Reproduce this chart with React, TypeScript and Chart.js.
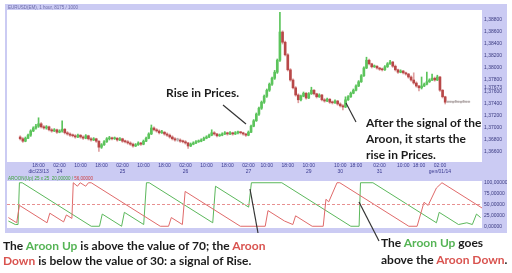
import React, { useEffect, useRef } from 'react';
import { Chart, registerables } from 'chart.js';
Chart.register(...registerables);

// ---------- DATA ----------
const opens = [
  1.3685,1.3682,1.3678,1.3683,1.3688,1.3695,1.3700,1.3703,1.3707,1.3702,
  1.3700,1.3702,1.3697,1.3695,1.3697,1.3693,1.3695,1.3698,1.3692,1.3690,
  1.3688,1.3687,1.3685,1.3688,1.3685,1.3683,1.3687,1.3682,1.3680,1.3682,
  1.3678,1.3668,1.3672,1.3677,1.3682,1.3683,1.3682,1.3683,1.3680,1.3682,
  1.3678,1.3677,1.3675,1.3673,1.3670,1.3672,1.3675,1.3673,1.3678,1.3683,
  1.3690,1.3700,1.3697,1.3695,1.3692,1.3693,1.3690,1.3688,1.3685,1.3682,
  1.3680,1.3680,1.3678,1.3677,1.3675,1.3670,1.3673,1.3675,1.3677,1.3678,
  1.3680,1.3683,1.3685,1.3688,1.3692,1.3690,1.3687,1.3688,1.3690,1.3692,
  1.3690,1.3692,1.3690,1.3692,1.3693,1.3692,1.3690,1.3688,1.3693,1.3703,
  1.3712,1.3723,1.3733,1.3743,1.3753,1.3763,1.3773,1.3783,1.3793,1.3813,
  1.3860,1.3843,1.3822,1.3797,1.3780,1.3767,1.3755,1.3747,1.3753,1.3758,
  1.3750,1.3757,1.3763,1.3757,1.3752,1.3755,1.3747,1.3745,1.3748,1.3743,
  1.3742,1.3745,1.3740,1.3737,1.3735,1.3747,1.3752,1.3758,1.3763,1.3770,
  1.3777,1.3787,1.3800,1.3813,1.3807,1.3802,1.3803,1.3800,1.3798,1.3797,
  1.3802,1.3807,1.3810,1.3803,1.3797,1.3793,1.3795,1.3792,1.3790,1.3785,
  1.3780,1.3775,1.3770,1.3767,1.3770,1.3773,1.3777,1.3780,1.3783,1.3780,
  1.3785,1.3763,1.3752,1.3743,1.3743,1.3743,1.3743,1.3743,1.3743,1.3743,
  1.3743,1.3743,
];
const closes = [
  1.3682,1.3678,1.3683,1.3688,1.3695,1.3700,1.3703,1.3707,1.3702,1.3700,
  1.3702,1.3697,1.3695,1.3697,1.3693,1.3695,1.3698,1.3692,1.3690,1.3688,
  1.3687,1.3685,1.3688,1.3685,1.3683,1.3687,1.3682,1.3680,1.3682,1.3678,
  1.3668,1.3672,1.3677,1.3682,1.3683,1.3682,1.3683,1.3680,1.3682,1.3678,
  1.3677,1.3675,1.3673,1.3670,1.3672,1.3675,1.3673,1.3678,1.3683,1.3690,
  1.3700,1.3697,1.3695,1.3692,1.3693,1.3690,1.3688,1.3685,1.3682,1.3680,
  1.3680,1.3678,1.3677,1.3675,1.3670,1.3673,1.3675,1.3677,1.3678,1.3680,
  1.3683,1.3685,1.3688,1.3692,1.3690,1.3687,1.3688,1.3690,1.3692,1.3690,
  1.3692,1.3690,1.3692,1.3693,1.3692,1.3690,1.3688,1.3693,1.3703,1.3712,
  1.3723,1.3733,1.3743,1.3753,1.3763,1.3773,1.3783,1.3793,1.3813,1.3860,
  1.3843,1.3822,1.3797,1.3780,1.3767,1.3755,1.3747,1.3753,1.3758,1.3750,
  1.3757,1.3763,1.3757,1.3752,1.3755,1.3747,1.3745,1.3748,1.3743,1.3742,
  1.3745,1.3740,1.3737,1.3735,1.3747,1.3752,1.3758,1.3763,1.3770,1.3777,
  1.3787,1.3800,1.3813,1.3807,1.3802,1.3803,1.3800,1.3798,1.3797,1.3802,
  1.3807,1.3810,1.3803,1.3797,1.3793,1.3795,1.3792,1.3790,1.3785,1.3780,
  1.3775,1.3770,1.3767,1.3770,1.3773,1.3777,1.3780,1.3783,1.3780,1.3785,
  1.3763,1.3752,1.3743,1.3743,1.3743,1.3743,1.3743,1.3743,1.3743,1.3743,
  1.3743,1.3743,
];
const highs = [
  1.3687,1.3684,1.3685,1.3690,1.3697,1.3702,1.3706,1.3717,1.3709,1.3704,
  1.3704,1.3703,1.3699,1.3699,1.3698,1.3697,1.3712,1.3699,1.3694,1.3692,
  1.3690,1.3689,1.3690,1.3689,1.3687,1.3689,1.3688,1.3684,1.3684,1.3683,
  1.3679,1.3674,1.3679,1.3684,1.3686,1.3685,1.3685,1.3684,1.3684,1.3683,
  1.3680,1.3679,1.3677,1.3675,1.3674,1.3677,1.3676,1.3680,1.3685,1.3692,
  1.3705,1.3702,1.3699,1.3697,1.3696,1.3694,1.3692,1.3690,1.3687,1.3684,
  1.3683,1.3682,1.3680,1.3679,1.3676,1.3675,1.3677,1.3679,1.3680,1.3682,
  1.3685,1.3687,1.3690,1.3697,1.3694,1.3691,1.3690,1.3692,1.3694,1.3693,
  1.3694,1.3693,1.3694,1.3695,1.3694,1.3693,1.3691,1.3695,1.3705,1.3714,
  1.3725,1.3735,1.3745,1.3755,1.3765,1.3775,1.3785,1.3796,1.3815,1.3893,
  1.3862,1.3845,1.3824,1.3799,1.3782,1.3769,1.3757,1.3755,1.3760,1.3759,
  1.3759,1.3768,1.3764,1.3758,1.3757,1.3756,1.3749,1.3750,1.3749,1.3745,
  1.3747,1.3746,1.3742,1.3739,1.3752,1.3754,1.3760,1.3765,1.3772,1.3779,
  1.3789,1.3802,1.3818,1.3815,1.3808,1.3805,1.3804,1.3801,1.3800,1.3804,
  1.3809,1.3813,1.3811,1.3805,1.3798,1.3797,1.3796,1.3793,1.3791,1.3787,
  1.3792,1.3777,1.3771,1.3785,1.3775,1.3793,1.3782,1.3790,1.3785,1.3788,
  1.3786,1.3764,1.3753,1.3743,1.3743,1.3744,1.3746,1.3743,1.3744,1.3746,
  1.3744,1.3743,
];
const lows = [
  1.3680,1.3676,1.3677,1.3682,1.3686,1.3694,1.3698,1.3701,1.3700,1.3698,
  1.3698,1.3695,1.3693,1.3694,1.3691,1.3692,1.3693,1.3690,1.3688,1.3686,
  1.3685,1.3683,1.3684,1.3683,1.3681,1.3682,1.3680,1.3678,1.3679,1.3676,
  1.3661,1.3666,1.3671,1.3676,1.3680,1.3680,1.3681,1.3678,1.3679,1.3676,
  1.3675,1.3673,1.3671,1.3668,1.3669,1.3671,1.3671,1.3672,1.3677,1.3682,
  1.3689,1.3695,1.3693,1.3690,1.3691,1.3688,1.3686,1.3683,1.3680,1.3678,
  1.3678,1.3676,1.3675,1.3673,1.3666,1.3669,1.3672,1.3674,1.3676,1.3677,
  1.3679,1.3682,1.3684,1.3687,1.3688,1.3685,1.3686,1.3687,1.3689,1.3688,
  1.3689,1.3688,1.3689,1.3690,1.3690,1.3688,1.3686,1.3687,1.3692,1.3702,
  1.3711,1.3721,1.3731,1.3741,1.3751,1.3761,1.3771,1.3781,1.3791,1.3811,
  1.3840,1.3820,1.3795,1.3778,1.3765,1.3753,1.3742,1.3745,1.3752,1.3748,
  1.3749,1.3756,1.3755,1.3750,1.3751,1.3745,1.3743,1.3744,1.3741,1.3740,
  1.3741,1.3738,1.3735,1.3730,1.3734,1.3746,1.3751,1.3757,1.3762,1.3769,
  1.3776,1.3786,1.3799,1.3805,1.3800,1.3801,1.3798,1.3796,1.3795,1.3796,
  1.3801,1.3806,1.3801,1.3795,1.3791,1.3792,1.3790,1.3788,1.3783,1.3778,
  1.3773,1.3768,1.3762,1.3765,1.3769,1.3772,1.3776,1.3779,1.3778,1.3779,
  1.3761,1.3750,1.3740,1.3743,1.3743,1.3742,1.3743,1.3743,1.3742,1.3743,
  1.3743,1.3743,
];

const priceTicks = [1.366, 1.368, 1.37, 1.372, 1.374, 1.376, 1.378, 1.38, 1.382, 1.384, 1.386, 1.388];
const lastPrice = 1.37673;
const priceMin = 1.36433;
const priceMax = 1.38967;

const timeTickIdx = [7, 15, 23, 31, 39, 47, 55, 63, 71, 79, 87, 94, 102, 110, 122, 128, 137, 146, 152, 160];
const timeTickTime = ['18:00','02:00','10:00','18:00','02:00','10:00','18:00','02:00','10:00','18:00','02:00','10:00','18:00','10:00','10:00','18:00','02:00','10:00','18:00','02:00'];
const timeTickDate = ['dic/23/13','24','','','25','','','26','','','27','','','29','30','','31','','','gen/01/14'];

// Aroon vertices: [bar index, value]
const aroonUp: number[][] = [
  [0,12],[2.5,4],[3.5,4],[4,100],[5,100],[30,0],[33,0],[34,28],[41,0],[42,32],[49,4],[50,100],[51,100],
  [74,8],[75,92],[87,44],[88,100],[99,100],[124,0],[127,0],[127.5,100],[132,100],[155,8],[156,32],
  [163,4],[166,8],[168,4],[169.5,28],[171,20],
];
const aroonDown: number[][] = [
  [0,20],[3,8],[4,48],[14,8],[15,30],[20,10],[21,26],[23,18],[23.5,100],[25,92],[26,100],[28,92],[29,100],
  [30,100],[55,0],[58,0],[59,20],[63,4],[64,80],[84,0],[93,0],[94,36],[100,12],[103,4],[104,24],[110,0],
  [114,0],[115,62],[116,56],[119,100],[120,100],[145,0],[148,0],[150.5,55],[152,48],[155,88],[157,100],[171.5,42],
];
const aroonTicks = [0, 25, 50, 75, 100];
const aroonSignal = 50;

const N = closes.length;
const fmt = (v: number) => v.toFixed(5).replace('.', ',');

const GREEN = '#5cc45c';
const RED = '#b84848';
const WICK_RED = '#dfa0a0';
const FLAT = '#b8b0b0';
const LAV = '#cbcbf3';

const whitePlot = {
  id: 'whitePlot',
  beforeDraw(chart: any) {
    const { ctx, chartArea } = chart;
    ctx.save();
    ctx.fillStyle = '#ffffff';
    ctx.fillRect(chartArea.left, chartArea.top, chartArea.right - chartArea.left, chartArea.bottom - chartArea.top);
    ctx.restore();
  },
};

const titlePlugin = {
  id: 'titleText',
  afterDraw(chart: any) {
    const { ctx } = chart;
    ctx.save();
    ctx.font = '4.5px Arial, "Liberation Sans", sans-serif';
    ctx.fillStyle = '#6a6aa8';
    ctx.textBaseline = 'middle';
    ctx.fillText('EURUSD(EM), 1 hour, 8175 / 1000', 3, 3.5);
    ctx.restore();
  },
};

const aroonLegend = {
  id: 'aroonLegend',
  afterDraw(chart: any) {
    const { ctx, chartArea } = chart;
    ctx.save();
    ctx.font = '4.5px Arial, "Liberation Sans", sans-serif';
    ctx.textBaseline = 'top';
    ctx.fillStyle = '#3fa33f';
    const t1 = 'AROON(Up) 25 x 25  20,00000 / ';
    ctx.fillText(t1, chartArea.left + 1, 1);
    const w = ctx.measureText(t1).width;
    ctx.fillStyle = '#d04040';
    ctx.fillText('56,00000', chartArea.left + 1 + w, 1);
    ctx.restore();
  },
};

function PriceChart() {
  const ref = useRef<HTMLCanvasElement>(null);
  useEffect(() => {
    const idx = closes.map((_, i) => i);
    const kind = closes.map((c, i) => (c > opens[i] ? 1 : c < opens[i] ? -1 : 0));
    const chart = new Chart(ref.current!, {
      type: 'bar',
      data: {
        datasets: [
          {
            data: idx.map((i) => ({ x: i, y: [lows[i], highs[i]] })) as any,
            backgroundColor: kind.map((k) => (k > 0 ? GREEN : k < 0 ? WICK_RED : FLAT)),
            barThickness: 1,
            grouped: false,
            borderWidth: 0,
            minBarLength: 1,
            order: 2,
          } as any,
          {
            data: idx.map((i) => ({ x: i, y: [opens[i], closes[i]] })) as any,
            backgroundColor: kind.map((k) => (k > 0 ? GREEN : k < 0 ? RED : FLAT)),
            barThickness: 2,
            grouped: false,
            borderWidth: 0,
            minBarLength: 1,
            order: 1,
          } as any,
        ],
      },
      options: {
        animation: false,
        responsive: false,
        maintainAspectRatio: false,
        layout: { padding: { left: 2, top: 6, right: 0, bottom: 0 } },
        plugins: { legend: { display: false }, tooltip: { enabled: false } },
        scales: {
          x: {
            type: 'linear',
            min: -0.5,
            max: N - 0.5,
            grid: { display: false, drawTicks: false },
            border: { display: false },
            afterBuildTicks: (s: any) => { s.ticks = timeTickIdx.map((v) => ({ value: v })); },
            afterFit: (s: any) => { s.height = 14; },
            ticks: {
              autoSkip: false,
              maxRotation: 0,
              padding: 1,
              font: { size: 5, family: 'Arial, "Liberation Sans", sans-serif' },
              color: '#3a3a90',
              callback: (v: any) => {
                const k = timeTickIdx.indexOf(v);
                if (k < 0) return '';
                return timeTickDate[k] ? [timeTickTime[k], timeTickDate[k]] : [timeTickTime[k], ' '];
              },
            },
          },
          y: {
            position: 'right',
            min: priceMin,
            max: priceMax,
            grid: { display: false, drawTicks: false },
            border: { display: false },
            afterBuildTicks: (s: any) => { s.ticks = [...priceTicks, lastPrice].map((v) => ({ value: v })); },
            afterFit: (s: any) => { s.width = 25; },
            ticks: {
              autoSkip: false,
              padding: 2,
              font: { size: 5, family: 'Arial, "Liberation Sans", sans-serif' },
              color: '#3a3a80',
              callback: (v: any) => fmt(Number(v)),
            },
          },
        },
      } as any,
      plugins: [whitePlot, titlePlugin],
    });
    return () => chart.destroy();
  }, []);
  return (
    <canvas ref={ref} width={502} height={172}
      style={{ position: 'absolute', left: 5, top: 4, width: 502, height: 172 }} />
  );
}

function AroonChart() {
  const ref = useRef<HTMLCanvasElement>(null);
  useEffect(() => {
    const chart = new Chart(ref.current!, {
      type: 'line',
      data: {
        datasets: [
          {
            data: [{ x: -0.5, y: aroonSignal }, { x: N - 0.5, y: aroonSignal }],
            borderColor: '#e79090',
            borderWidth: 1,
            borderDash: [3, 2],
            pointRadius: 0,
          },
          {
            data: aroonDown.map(([x, y]) => ({ x, y })),
            borderColor: '#e06a6a',
            borderWidth: 1,
            pointRadius: 0,
            tension: 0,
          },
          {
            data: aroonUp.map(([x, y]) => ({ x, y })),
            borderColor: '#5cb85c',
            borderWidth: 1,
            pointRadius: 0,
            tension: 0,
          },
        ],
      },
      options: {
        animation: false,
        responsive: false,
        maintainAspectRatio: false,
        layout: { padding: { left: 2, top: 1, right: 0, bottom: 2 } },
        plugins: { legend: { display: false }, tooltip: { enabled: false } },
        scales: {
          x: { type: 'linear', min: -0.5, max: N - 0.5, display: false },
          y: {
            position: 'right',
            min: -4,
            max: 104,
            grid: { display: false, drawTicks: false },
            border: { display: false },
            afterBuildTicks: (s: any) => { s.ticks = aroonTicks.map((v) => ({ value: v })); },
            afterFit: (s: any) => { s.width = 25; },
            ticks: {
              autoSkip: false,
              padding: 2,
              font: { size: 5, family: 'Arial, "Liberation Sans", sans-serif' },
              color: '#3a3a80',
              callback: (v: any) => fmt(Number(v)),
            },
          },
        },
      } as any,
      plugins: [whitePlot, aroonLegend],
    });
    return () => chart.destroy();
  }, []);
  return (
    <canvas ref={ref} width={502} height={57}
      style={{ position: 'absolute', left: 5, top: 176, width: 502, height: 57 }} />
  );
}

const txt: React.CSSProperties = {
  position: 'absolute',
  fontFamily: 'Lato, "Open Sans", sans-serif',
  fontWeight: 700,
  color: '#1c1c1c',
  whiteSpace: 'nowrap',
  lineHeight: 1,
};
const G = { color: '#55b455' };
const R = { color: '#d9534f' };

export default function App() {
  return (
    <div style={{ position: 'fixed', left: 0, top: 0, width: 512, height: 273, background: '#fff', overflow: 'hidden' }}>
      <div style={{ position: 'absolute', left: 5, top: 4, width: 502, height: 229, background: LAV }} />
      <PriceChart />
      <AroonChart />
      <svg width={512} height={273} style={{ position: 'absolute', left: 0, top: 0 }}>
        <line x1={223} y1={105} x2={246} y2={124} stroke="#333" strokeWidth={1.2} />
        <line x1={346} y1={103} x2={356} y2={122} stroke="#333" strokeWidth={1.2} />
        <line x1={250} y1={189} x2={258} y2={233} stroke="#333" strokeWidth={1.2} />
        <line x1={359} y1={202} x2={379} y2={241} stroke="#333" strokeWidth={1.2} />
      </svg>
      <div style={{ ...txt, left: 166, top: 87, fontSize: 12 }}>Rise in Prices.</div>
      <div style={{ ...txt, left: 366, top: 117, fontSize: 12 }}>After the signal of the</div>
      <div style={{ ...txt, left: 366, top: 133, fontSize: 12 }}>Aroon, it starts the</div>
      <div style={{ ...txt, left: 366, top: 149, fontSize: 12 }}>rise in Prices.</div>
      <div style={{ ...txt, left: 3, top: 240, fontSize: 12 }}>
        The <span style={G}>Aroon Up</span> is above the value of 70; the <span style={R}>Aroon</span>
      </div>
      <div style={{ ...txt, left: 3, top: 255, fontSize: 12 }}>
        <span style={R}>Down</span> is below the value of 30: a signal of Rise.
      </div>
      <div style={{ ...txt, left: 381, top: 237, fontSize: 12 }}>
        The <span style={G}>Aroon Up</span> goes
      </div>
      <div style={{ ...txt, left: 381, top: 254, fontSize: 12 }}>
        above the <span style={R}>Aroon Down</span>.
      </div>
    </div>
  );
}
